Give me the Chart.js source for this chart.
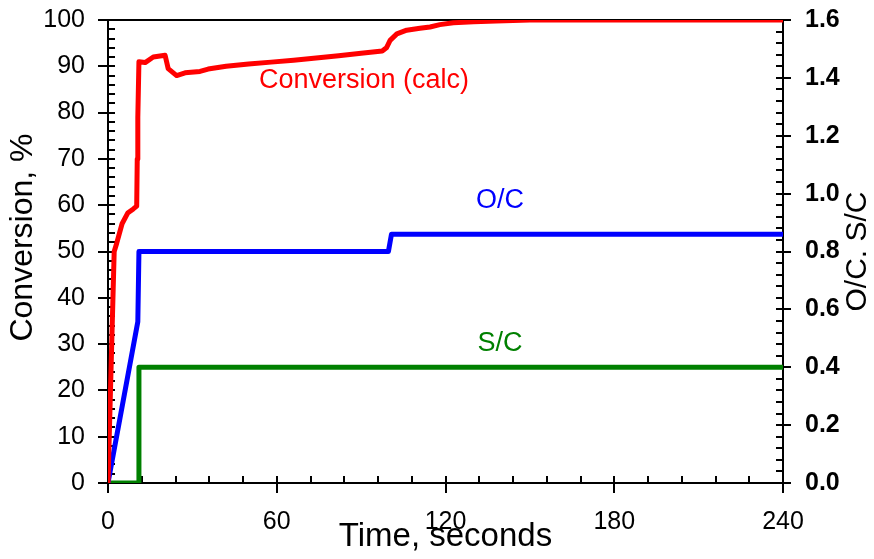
<!DOCTYPE html>
<html><head><meta charset="utf-8">
<script src="https://cdn.jsdelivr.net/npm/chart.js@4.4.1/dist/chart.umd.min.js"></script>
<style>html,body{margin:0;padding:0;background:#fff;}canvas{display:block;}</style>
</head><body>
<canvas id="c" width="874" height="559"></canvas>
<script>
// ---- data ----
const convTime   = [0, 2.2, 3.1, 5.0, 7.0, 9.0, 10.2, 10.4, 10.6, 11.0, 13.2, 16.1, 20.3, 21.4, 24.4, 27.4, 32.7, 35.6, 42, 50, 58, 66, 74, 82, 90, 97.5, 99, 100.3, 102.7, 106.2, 110.9, 114.5, 118, 122.8, 130, 138, 150, 240];
const convValues = [0, 50, 51.8, 56, 58.3, 59.2, 59.8, 70, 79, 91, 90.8, 92.0, 92.4, 89.5, 88.0, 88.6, 88.9, 89.4, 90.0, 90.5, 90.9, 91.3, 91.8, 92.3, 92.8, 93.3, 94.0, 95.6, 97.0, 97.8, 98.2, 98.5, 99.0, 99.4, 99.6, 99.8, 100, 100];
const ocTime   = [0, 10.6, 11.0, 99.7, 100.8, 240];
const ocValues = [0, 0.557, 0.8, 0.8, 0.86, 0.86];
const scTime   = [0, 11.0, 11.0, 240];
const scValues = [0, 0, 0.4, 0.4];
const xTicks     = [0, 60, 120, 180, 240];
const leftTicks  = [0, 10, 20, 30, 40, 50, 60, 70, 80, 90, 100];
const rightTicks = [0, 0.2, 0.4, 0.6, 0.8, 1.0, 1.2, 1.4, 1.6];
const xTitle = 'Time, seconds';
const leftTitle = 'Conversion, %';
const rightTitle = 'O/C. S/C';
const seriesLabels = ['Conversion (calc)', 'O/C', 'S/C'];

const FONT = "'Liberation Sans', Arial, Helvetica, sans-serif";
const pts = (xs, ys) => xs.map((x, i) => ({x: x, y: ys[i]}));

// in-chart series labels (positions in data coordinates of x / left axis)
const notes = [
  {text: seriesLabels[0], x: 91,    y: 87.0, color: '#ff0000'},
  {text: seriesLabels[1], x: 139.4, y: 61.1, color: '#0000ff'},
  {text: seriesLabels[2], x: 139.4, y: 30.2, color: '#008000'}
];

const decorations = {
  id: 'decorations',
  beforeDatasetsDraw(chart) {
    const {ctx, chartArea: a, scales} = chart;
    ctx.save();
    ctx.strokeStyle = '#000';
    ctx.lineWidth = 2;
    ctx.beginPath();
    ctx.moveTo(a.left - 1, a.top); ctx.lineTo(a.right + 1, a.top);
    ctx.stroke();
    ctx.beginPath();
    for (let i = 0; i <= 20; i++) {           // x: minor every 12 s
      const px = Math.round(scales.x.getPixelForValue(i * 12));
      ctx.moveTo(px, a.bottom - 7);
      ctx.lineTo(px, i % 5 === 0 ? a.bottom + 10 : a.bottom);
    }
    for (let i = 0; i <= 50; i++) {           // left: minor every 2
      const py = Math.round(scales.y.getPixelForValue(i * 2));
      ctx.moveTo(i % 5 === 0 ? a.left - 10 : a.left, py);
      ctx.lineTo(a.left + 7, py);
    }
    for (let i = 0; i <= 40; i++) {           // right: minor every 0.04
      const py = Math.round(scales.y2.getPixelForValue(i * 0.04));
      ctx.moveTo(a.right - 7, py);
      ctx.lineTo(i % 5 === 0 ? a.right + 8 : a.right, py);
    }
    ctx.stroke();
    ctx.restore();
  },
  afterDraw(chart) {
    const {ctx, chartArea: a, scales} = chart;
    ctx.save();
    ctx.font = '27px ' + FONT;
    ctx.textAlign = 'center';
    ctx.textBaseline = 'middle';
    notes.forEach(n => {
      ctx.fillStyle = n.color;
      ctx.fillText(n.text, scales.x.getPixelForValue(n.x), scales.y.getPixelForValue(n.y));
    });
    ctx.fillStyle = '#000';
    // left axis title, reading bottom-to-top
    ctx.save();
    ctx.font = '32px ' + FONT;
    ctx.translate(scales.y.left + 23, (a.top + a.bottom) / 2 - 14);
    ctx.rotate(-Math.PI / 2);
    ctx.fillText(leftTitle, 0, 0);
    ctx.restore();
    // right axis title, reading bottom-to-top
    ctx.font = '30px ' + FONT;
    ctx.translate(scales.y2.right - 16, (a.top + a.bottom) / 2);
    ctx.rotate(-Math.PI / 2);
    ctx.fillText(rightTitle, 0, 0);
    ctx.restore();
  }
};

const fitV = w => s => { s.width = w; s.paddingTop = 0; s.paddingBottom = 0; };

new Chart(document.getElementById('c'), {
  type: 'line',
  data: {
    datasets: [
      {label: seriesLabels[0], data: pts(convTime, convValues), yAxisID: 'y', borderColor: '#ff0000', borderWidth: 5},
      {label: seriesLabels[1], data: pts(ocTime, ocValues), yAxisID: 'y2', borderColor: '#0000ff', borderWidth: 5},
      {label: seriesLabels[2], data: pts(scTime, scValues), yAxisID: 'y2', borderColor: '#008000', borderWidth: 5}
    ]
  },
  options: {
    responsive: false,
    animation: false,
    devicePixelRatio: 1,
    layout: {padding: {top: 20, left: 0, right: 0, bottom: 0}},
    elements: {point: {radius: 0}, line: {tension: 0, borderJoinStyle: 'round', fill: false}},
    plugins: {legend: {display: false}, tooltip: {enabled: false}},
    scales: {
      x: {
        type: 'linear', position: 'bottom', min: 0, max: 240,
        afterBuildTicks: s => { s.ticks = xTicks.map(v => ({value: v})); },
        afterFit: s => { s.height = 76; s.paddingLeft = 0; s.paddingRight = 0; },
        grid: {display: false, drawTicks: false},
        border: {display: true, color: '#000', width: 2},
        ticks: {color: '#000', font: {family: FONT, size: 25}, padding: 24, maxRotation: 0, autoSkip: false},
        title: {display: true, text: xTitle, color: '#000', font: {family: FONT, size: 33}, padding: {top: 0, bottom: 2}}
      },
      y: {
        type: 'linear', position: 'left', min: 0, max: 100,
        afterBuildTicks: s => { s.ticks = leftTicks.map(v => ({value: v})); },
        afterFit: fitV(108),
        grid: {display: false, drawTicks: false},
        border: {display: true, color: '#000', width: 2},
        ticks: {color: '#000', font: {family: FONT, size: 25}, padding: 23, autoSkip: false}
      },
      y2: {
        type: 'linear', position: 'right', min: 0, max: 1.6,
        afterBuildTicks: s => { s.ticks = rightTicks.map(v => ({value: v})); },
        afterFit: fitV(91),
        grid: {display: false, drawTicks: false},
        border: {display: true, color: '#000', width: 2},
        ticks: {color: '#000', font: {family: FONT, size: 25, weight: 'bold'}, padding: 22, autoSkip: false,
                callback: v => Number(v).toFixed(1)}
      }
    }
  },
  plugins: [decorations]
});
</script>
</body></html>
